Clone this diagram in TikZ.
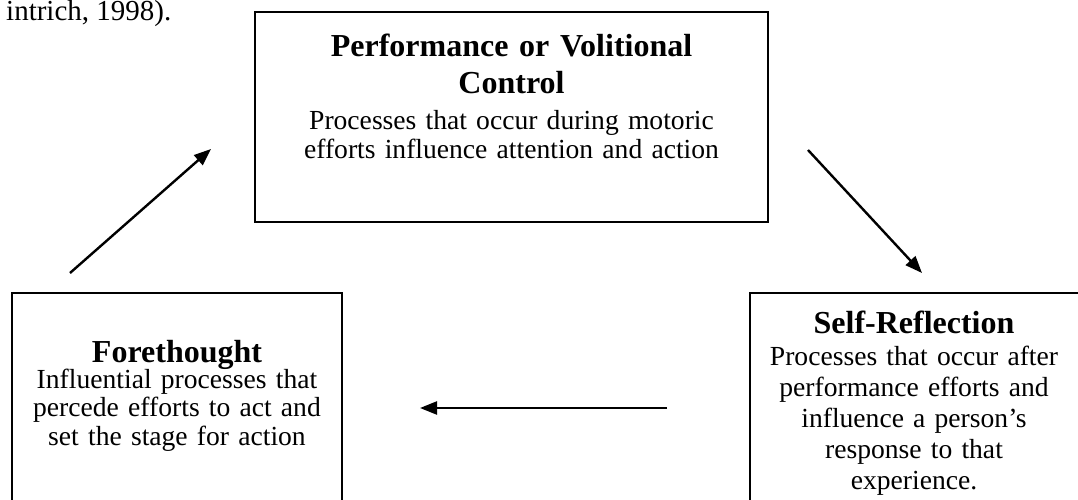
\documentclass[tikz,border=0pt]{standalone}
\usepackage{fontspec}
\setmainfont{Liberation Serif}
\usetikzlibrary{arrows.meta}

\begin{document}
\begin{tikzpicture}[x=1pt,y=-1pt,
  panel/.style={draw=black, line width=2.2pt, inner sep=0pt},
  heading/.style={font=\fontsize{32}{37}\selectfont\bfseries, align=center,
    text width=500pt, anchor=base, inner sep=0pt},
  bodytext/.style={font=\fontsize{27.6}{28.5}\selectfont, align=center,
    text width=500pt, anchor=base, inner sep=0pt},
  widebody/.style={bodytext, font=\fontsize{27.6}{31}\selectfont},
  flow/.style={line width=2.4pt, -{Triangle[length=17pt,width=13pt]}}
]
\useasboundingbox (0,0) rectangle (1078,500);

\begin{scope}
  \clip (0,0) rectangle (1078,500);

  % running text above the figure
  \node[font=\fontsize{29}{31}\selectfont, anchor=base west, inner sep=0pt]
    (cite) at (6,21) {intrich, 1998).};

  % the three phase boxes
  \node[panel, minimum width=513pt, minimum height=210pt] (perf) at (511.5,117) {};
  \node[panel, minimum width=330pt, minimum height=237pt] (fore) at (177,411.5) {};
  \node[panel, minimum width=340pt, minimum height=237pt] (refl) at (920,411.5) {};

  % Performance or Volitional Control
  \node[heading] (perfhead) at (511.5,57) {Performance or Volitional\\Control};
  \node[bodytext] (perfbody) at (511.5,130)
    {Processes that occur during motoric\\efforts influence attention and action};

  % Forethought
  \node[heading] (forehead) at (177,362) {Forethought};
  \node[bodytext] (forebody) at (177,388)
    {Influential processes that\\percede efforts to act and\\set the stage for action};

  % Self-Reflection (last line runs past the bottom of its text frame)
  \node[heading] (reflhead) at (914,333) {Self-Reflection};
  \begin{scope}
    \clip (740,340) rectangle (1078,494.5);
    \node[widebody] (reflbody) at (914,365)
      {Processes that occur after\\performance efforts and\\influence a person’s\\response to that\\experience.};
  \end{scope}

  % cycle arrows
  \coordinate (a1s) at (70,273);  \coordinate (a1e) at (211,149);
  \coordinate (a2s) at (808,150); \coordinate (a2e) at (922,273);
  \coordinate (a3s) at (667,408); \coordinate (a3e) at (420,408);
  \draw[flow] (a1s) -- (a1e);
  \draw[flow] (a2s) -- (a2e);
  \draw[flow] (a3s) -- (a3e);
\end{scope}
\end{tikzpicture}
\end{document}
